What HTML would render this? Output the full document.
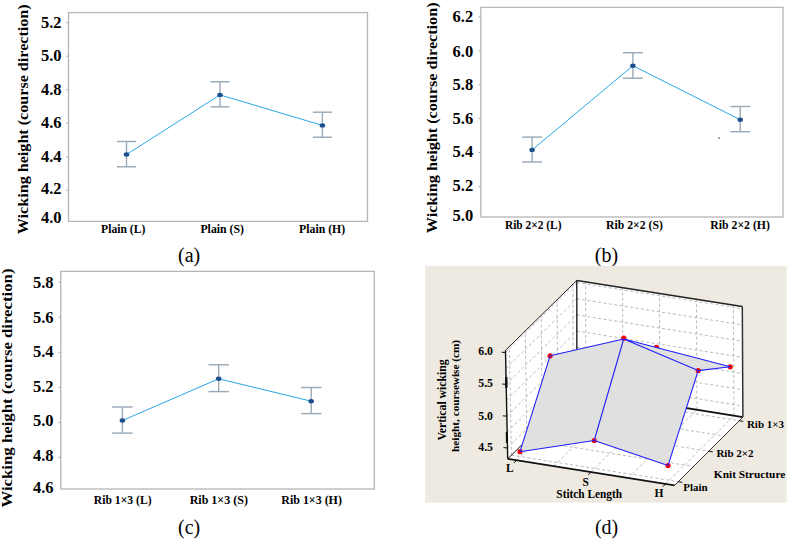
<!DOCTYPE html><html><head><meta charset="utf-8"><style>html,body{margin:0;padding:0;background:#fff;overflow:hidden}</style></head><body><svg width="789" height="539" viewBox="0 0 789 539" style="display:block;font-family:'Liberation Serif', serif">
<rect width="789" height="539" fill="#fff"/>
<rect x="68.50" y="12.60" width="299.00" height="208.80" fill="#fff" stroke="#b6b6b6" stroke-width="1.3"/>
<line x1="66.30" y1="22.60" x2="68.50" y2="22.60" stroke="#a8a8a8" stroke-width="1"/>
<line x1="66.30" y1="56.15" x2="68.50" y2="56.15" stroke="#a8a8a8" stroke-width="1"/>
<line x1="66.30" y1="89.70" x2="68.50" y2="89.70" stroke="#a8a8a8" stroke-width="1"/>
<line x1="66.30" y1="123.25" x2="68.50" y2="123.25" stroke="#a8a8a8" stroke-width="1"/>
<line x1="66.30" y1="156.80" x2="68.50" y2="156.80" stroke="#a8a8a8" stroke-width="1"/>
<line x1="66.30" y1="190.35" x2="68.50" y2="190.35" stroke="#a8a8a8" stroke-width="1"/>
<text x="61.50" y="27.80" font-size="16.5" text-anchor="end" font-weight="bold" fill="#000" >5.2</text>
<text x="61.50" y="60.95" font-size="16.5" text-anchor="end" font-weight="bold" fill="#000" >5.0</text>
<text x="61.50" y="95.15" font-size="16.5" text-anchor="end" font-weight="bold" fill="#000" >4.8</text>
<text x="61.50" y="128.34" font-size="16.5" text-anchor="end" font-weight="bold" fill="#000" >4.6</text>
<text x="61.50" y="161.54" font-size="16.5" text-anchor="end" font-weight="bold" fill="#000" >4.4</text>
<text x="61.50" y="194.44" font-size="16.5" text-anchor="end" font-weight="bold" fill="#000" >4.2</text>
<text x="61.50" y="222.94" font-size="16.5" text-anchor="end" font-weight="bold" fill="#000" >4.0</text>
<text x="123.20" y="233.30" font-size="11.8" text-anchor="middle" font-weight="bold" fill="#000" textLength="44.2" lengthAdjust="spacingAndGlyphs">Plain (L)</text>
<text x="222.20" y="233.30" font-size="11.8" text-anchor="middle" font-weight="bold" fill="#000" textLength="43.6" lengthAdjust="spacingAndGlyphs">Plain (S)</text>
<text x="322.10" y="233.30" font-size="11.8" text-anchor="middle" font-weight="bold" fill="#000" textLength="46.0" lengthAdjust="spacingAndGlyphs">Plain (H)</text>
<g stroke="#9aaab8" stroke-width="1.45" fill="none"><line x1="126.50" y1="141.50" x2="126.50" y2="166.80" stroke-width="1.4"/><line x1="116.90" y1="141.50" x2="136.10" y2="141.50"/><line x1="116.90" y1="166.80" x2="136.10" y2="166.80"/></g>
<g stroke="#9aaab8" stroke-width="1.45" fill="none"><line x1="220.00" y1="81.80" x2="220.00" y2="106.80" stroke-width="1.4"/><line x1="210.40" y1="81.80" x2="229.60" y2="81.80"/><line x1="210.40" y1="106.80" x2="229.60" y2="106.80"/></g>
<g stroke="#9aaab8" stroke-width="1.45" fill="none"><line x1="322.40" y1="112.20" x2="322.40" y2="137.20" stroke-width="1.4"/><line x1="312.80" y1="112.20" x2="332.00" y2="112.20"/><line x1="312.80" y1="137.20" x2="332.00" y2="137.20"/></g>
<path d="M126.50,154.50 L220.00,94.90 L322.40,125.40" stroke="#2aa6e6" stroke-width="1.0" fill="none"/>
<ellipse cx="126.50" cy="154.50" rx="2.75" ry="2.2" fill="#1a4f8c"/>
<ellipse cx="220.00" cy="94.90" rx="2.75" ry="2.2" fill="#1a4f8c"/>
<ellipse cx="322.40" cy="125.40" rx="2.75" ry="2.2" fill="#1a4f8c"/>
<text transform="translate(27.80,234.20) rotate(-90)" font-size="15" font-weight="bold" textLength="229.90" lengthAdjust="spacingAndGlyphs">Wicking height (course direction)</text>
<text x="189.10" y="261.80" font-size="20" text-anchor="middle" font-weight="normal" fill="#000" >(a)</text>
<rect x="480.80" y="7.40" width="302.20" height="209.60" fill="#fff" stroke="#b6b6b6" stroke-width="1.3"/>
<line x1="478.60" y1="16.90" x2="480.80" y2="16.90" stroke="#a8a8a8" stroke-width="1"/>
<line x1="478.60" y1="50.80" x2="480.80" y2="50.80" stroke="#a8a8a8" stroke-width="1"/>
<line x1="478.60" y1="84.70" x2="480.80" y2="84.70" stroke="#a8a8a8" stroke-width="1"/>
<line x1="478.60" y1="118.60" x2="480.80" y2="118.60" stroke="#a8a8a8" stroke-width="1"/>
<line x1="478.60" y1="152.50" x2="480.80" y2="152.50" stroke="#a8a8a8" stroke-width="1"/>
<line x1="478.60" y1="186.40" x2="480.80" y2="186.40" stroke="#a8a8a8" stroke-width="1"/>
<text x="473.20" y="22.25" font-size="16.5" text-anchor="end" font-weight="bold" fill="#000" >6.2</text>
<text x="473.20" y="56.84" font-size="16.5" text-anchor="end" font-weight="bold" fill="#000" >6.0</text>
<text x="473.20" y="90.25" font-size="16.5" text-anchor="end" font-weight="bold" fill="#000" >5.8</text>
<text x="473.20" y="124.34" font-size="16.5" text-anchor="end" font-weight="bold" fill="#000" >5.6</text>
<text x="473.20" y="156.75" font-size="16.5" text-anchor="end" font-weight="bold" fill="#000" >5.4</text>
<text x="473.20" y="191.34" font-size="16.5" text-anchor="end" font-weight="bold" fill="#000" >5.2</text>
<text x="473.20" y="221.04" font-size="16.5" text-anchor="end" font-weight="bold" fill="#000" >5.0</text>
<text x="533.20" y="229.30" font-size="11.8" text-anchor="middle" font-weight="bold" fill="#000" textLength="56.6" lengthAdjust="spacingAndGlyphs">Rib 2×2 (L)</text>
<text x="634.50" y="229.30" font-size="11.8" text-anchor="middle" font-weight="bold" fill="#000" textLength="56.9" lengthAdjust="spacingAndGlyphs">Rib 2×2 (S)</text>
<text x="740.10" y="229.30" font-size="11.8" text-anchor="middle" font-weight="bold" fill="#000" textLength="59.6" lengthAdjust="spacingAndGlyphs">Rib 2×2 (H)</text>
<g stroke="#9aaab8" stroke-width="1.45" fill="none"><line x1="532.10" y1="137.10" x2="532.10" y2="162.00" stroke-width="1.4"/><line x1="522.20" y1="137.10" x2="542.00" y2="137.10"/><line x1="522.20" y1="162.00" x2="542.00" y2="162.00"/></g>
<g stroke="#9aaab8" stroke-width="1.45" fill="none"><line x1="632.90" y1="52.70" x2="632.90" y2="78.20" stroke-width="1.4"/><line x1="623.00" y1="52.70" x2="642.80" y2="52.70"/><line x1="623.00" y1="78.20" x2="642.80" y2="78.20"/></g>
<g stroke="#9aaab8" stroke-width="1.45" fill="none"><line x1="740.20" y1="106.50" x2="740.20" y2="131.70" stroke-width="1.4"/><line x1="730.30" y1="106.50" x2="750.10" y2="106.50"/><line x1="730.30" y1="131.70" x2="750.10" y2="131.70"/></g>
<path d="M532.10,149.90 L632.90,65.70 L740.20,119.70" stroke="#2aa6e6" stroke-width="1.0" fill="none"/>
<ellipse cx="532.10" cy="149.90" rx="2.75" ry="2.2" fill="#1a4f8c"/>
<ellipse cx="632.90" cy="65.70" rx="2.75" ry="2.2" fill="#1a4f8c"/>
<ellipse cx="740.20" cy="119.70" rx="2.75" ry="2.2" fill="#1a4f8c"/>
<text transform="translate(436.70,233.20) rotate(-90)" font-size="15" font-weight="bold" textLength="230.80" lengthAdjust="spacingAndGlyphs">Wicking height (course direction)</text>
<text x="606.50" y="262.00" font-size="20" text-anchor="middle" font-weight="normal" fill="#000" >(b)</text>
<circle cx="719" cy="138" r="0.8" fill="#333"/>
<rect x="60.80" y="271.40" width="313.50" height="217.60" fill="#fff" stroke="#b6b6b6" stroke-width="1.3"/>
<line x1="58.60" y1="282.20" x2="60.80" y2="282.20" stroke="#a8a8a8" stroke-width="1"/>
<line x1="58.60" y1="317.25" x2="60.80" y2="317.25" stroke="#a8a8a8" stroke-width="1"/>
<line x1="58.60" y1="352.30" x2="60.80" y2="352.30" stroke="#a8a8a8" stroke-width="1"/>
<line x1="58.60" y1="387.35" x2="60.80" y2="387.35" stroke="#a8a8a8" stroke-width="1"/>
<line x1="58.60" y1="422.40" x2="60.80" y2="422.40" stroke="#a8a8a8" stroke-width="1"/>
<line x1="58.60" y1="457.45" x2="60.80" y2="457.45" stroke="#a8a8a8" stroke-width="1"/>
<text x="53.60" y="288.14" font-size="16.5" text-anchor="end" font-weight="bold" fill="#000" >5.8</text>
<text x="53.60" y="323.05" font-size="16.5" text-anchor="end" font-weight="bold" fill="#000" >5.6</text>
<text x="53.60" y="357.05" font-size="16.5" text-anchor="end" font-weight="bold" fill="#000" >5.4</text>
<text x="53.60" y="391.84" font-size="16.5" text-anchor="end" font-weight="bold" fill="#000" >5.2</text>
<text x="53.60" y="425.84" font-size="16.5" text-anchor="end" font-weight="bold" fill="#000" >5.0</text>
<text x="53.60" y="460.75" font-size="16.5" text-anchor="end" font-weight="bold" fill="#000" >4.8</text>
<text x="53.60" y="493.44" font-size="16.5" text-anchor="end" font-weight="bold" fill="#000" >4.6</text>
<text x="122.70" y="504.20" font-size="11.8" text-anchor="middle" font-weight="bold" fill="#000" textLength="57.9" lengthAdjust="spacingAndGlyphs">Rib 1×3 (L)</text>
<text x="218.80" y="504.20" font-size="11.8" text-anchor="middle" font-weight="bold" fill="#000" textLength="58.3" lengthAdjust="spacingAndGlyphs">Rib 1×3 (S)</text>
<text x="311.60" y="504.20" font-size="11.8" text-anchor="middle" font-weight="bold" fill="#000" textLength="60.6" lengthAdjust="spacingAndGlyphs">Rib 1×3 (H)</text>
<g stroke="#9aaab8" stroke-width="1.45" fill="none"><line x1="122.40" y1="407.00" x2="122.40" y2="433.10" stroke-width="1.4"/><line x1="112.20" y1="407.00" x2="132.60" y2="407.00"/><line x1="112.20" y1="433.10" x2="132.60" y2="433.10"/></g>
<g stroke="#9aaab8" stroke-width="1.45" fill="none"><line x1="218.70" y1="364.80" x2="218.70" y2="391.60" stroke-width="1.4"/><line x1="208.50" y1="364.80" x2="228.90" y2="364.80"/><line x1="208.50" y1="391.60" x2="228.90" y2="391.60"/></g>
<g stroke="#9aaab8" stroke-width="1.45" fill="none"><line x1="311.20" y1="387.50" x2="311.20" y2="413.60" stroke-width="1.4"/><line x1="301.00" y1="387.50" x2="321.40" y2="387.50"/><line x1="301.00" y1="413.60" x2="321.40" y2="413.60"/></g>
<path d="M122.40,420.50 L218.70,378.80 L311.20,401.20" stroke="#2aa6e6" stroke-width="1.0" fill="none"/>
<ellipse cx="122.40" cy="420.50" rx="2.75" ry="2.2" fill="#1a4f8c"/>
<ellipse cx="218.70" cy="378.80" rx="2.75" ry="2.2" fill="#1a4f8c"/>
<ellipse cx="311.20" cy="401.20" rx="2.75" ry="2.2" fill="#1a4f8c"/>
<text transform="translate(12.00,507.50) rotate(-90)" font-size="15" font-weight="bold" textLength="239.00" lengthAdjust="spacingAndGlyphs">Wicking height (course direction)</text>
<text x="189.10" y="533.60" font-size="20" text-anchor="middle" font-weight="normal" fill="#000" >(c)</text>
<rect x="425.2" y="265.9" width="361.4" height="236.8" fill="#eeeae1"/>
<polygon points="507.70,458.80 505.50,350.30 576.80,280.40 742.30,306.40 742.90,417.10 674.60,485.40" fill="#fff"/>
<line x1="511.41" y1="455.14" x2="509.32" y2="346.55" stroke="#b2b2b2" stroke-width="0.9" stroke-dasharray="3,2.4"/>
<line x1="585.80" y1="391.93" x2="585.67" y2="281.79" stroke="#b2b2b2" stroke-width="0.9" stroke-dasharray="3,2.4"/>
<line x1="516.65" y1="460.23" x2="585.80" y2="391.93" stroke="#b2b2b2" stroke-width="0.9" stroke-dasharray="3,2.4"/>
<line x1="511.41" y1="455.14" x2="678.26" y2="481.74" stroke="#b2b2b2" stroke-width="0.9" stroke-dasharray="3,2.4"/>
<line x1="526.85" y1="439.89" x2="525.24" y2="330.95" stroke="#b2b2b2" stroke-width="0.9" stroke-dasharray="3,2.4"/>
<line x1="622.85" y1="397.86" x2="622.61" y2="287.60" stroke="#b2b2b2" stroke-width="0.9" stroke-dasharray="3,2.4"/>
<line x1="553.90" y1="466.16" x2="622.85" y2="397.86" stroke="#b2b2b2" stroke-width="0.9" stroke-dasharray="3,2.4"/>
<line x1="526.85" y1="439.89" x2="693.51" y2="466.49" stroke="#b2b2b2" stroke-width="0.9" stroke-dasharray="3,2.4"/>
<line x1="542.30" y1="424.65" x2="541.15" y2="315.35" stroke="#b2b2b2" stroke-width="0.9" stroke-dasharray="3,2.4"/>
<line x1="659.90" y1="403.80" x2="659.55" y2="293.40" stroke="#b2b2b2" stroke-width="0.9" stroke-dasharray="3,2.4"/>
<line x1="591.15" y1="472.10" x2="659.90" y2="403.80" stroke="#b2b2b2" stroke-width="0.9" stroke-dasharray="3,2.4"/>
<line x1="542.30" y1="424.65" x2="708.75" y2="451.25" stroke="#b2b2b2" stroke-width="0.9" stroke-dasharray="3,2.4"/>
<line x1="557.75" y1="409.41" x2="557.06" y2="299.75" stroke="#b2b2b2" stroke-width="0.9" stroke-dasharray="3,2.4"/>
<line x1="696.95" y1="409.74" x2="696.49" y2="299.20" stroke="#b2b2b2" stroke-width="0.9" stroke-dasharray="3,2.4"/>
<line x1="628.40" y1="478.04" x2="696.95" y2="409.74" stroke="#b2b2b2" stroke-width="0.9" stroke-dasharray="3,2.4"/>
<line x1="557.75" y1="409.41" x2="723.99" y2="436.01" stroke="#b2b2b2" stroke-width="0.9" stroke-dasharray="3,2.4"/>
<line x1="573.19" y1="394.16" x2="572.98" y2="284.15" stroke="#b2b2b2" stroke-width="0.9" stroke-dasharray="3,2.4"/>
<line x1="734.00" y1="415.67" x2="733.43" y2="305.01" stroke="#b2b2b2" stroke-width="0.9" stroke-dasharray="3,2.4"/>
<line x1="665.65" y1="483.97" x2="734.00" y2="415.67" stroke="#b2b2b2" stroke-width="0.9" stroke-dasharray="3,2.4"/>
<line x1="573.19" y1="394.16" x2="739.24" y2="420.76" stroke="#b2b2b2" stroke-width="0.9" stroke-dasharray="3,2.4"/>
<line x1="507.48" y1="447.92" x2="576.89" y2="379.46" stroke="#b2b2b2" stroke-width="0.9" stroke-dasharray="3,2.4"/>
<line x1="576.89" y1="379.46" x2="742.84" y2="406.00" stroke="#b2b2b2" stroke-width="0.9" stroke-dasharray="3,2.4"/>
<line x1="507.16" y1="432.02" x2="576.88" y2="363.33" stroke="#b2b2b2" stroke-width="0.9" stroke-dasharray="3,2.4"/>
<line x1="576.88" y1="363.33" x2="742.75" y2="389.78" stroke="#b2b2b2" stroke-width="0.9" stroke-dasharray="3,2.4"/>
<line x1="506.83" y1="416.13" x2="576.86" y2="347.20" stroke="#b2b2b2" stroke-width="0.9" stroke-dasharray="3,2.4"/>
<line x1="576.86" y1="347.20" x2="742.66" y2="373.56" stroke="#b2b2b2" stroke-width="0.9" stroke-dasharray="3,2.4"/>
<line x1="506.51" y1="400.23" x2="576.85" y2="331.06" stroke="#b2b2b2" stroke-width="0.9" stroke-dasharray="3,2.4"/>
<line x1="576.85" y1="331.06" x2="742.58" y2="357.34" stroke="#b2b2b2" stroke-width="0.9" stroke-dasharray="3,2.4"/>
<line x1="506.19" y1="384.33" x2="576.83" y2="314.93" stroke="#b2b2b2" stroke-width="0.9" stroke-dasharray="3,2.4"/>
<line x1="576.83" y1="314.93" x2="742.49" y2="341.12" stroke="#b2b2b2" stroke-width="0.9" stroke-dasharray="3,2.4"/>
<line x1="505.87" y1="368.43" x2="576.82" y2="298.79" stroke="#b2b2b2" stroke-width="0.9" stroke-dasharray="3,2.4"/>
<line x1="576.82" y1="298.79" x2="742.40" y2="324.89" stroke="#b2b2b2" stroke-width="0.9" stroke-dasharray="3,2.4"/>
<line x1="505.55" y1="352.53" x2="576.80" y2="282.66" stroke="#b2b2b2" stroke-width="0.9" stroke-dasharray="3,2.4"/>
<line x1="576.80" y1="282.66" x2="742.31" y2="308.67" stroke="#b2b2b2" stroke-width="0.9" stroke-dasharray="3,2.4"/>
<line x1="507.70" y1="458.80" x2="674.60" y2="485.40" stroke="#111" stroke-width="1.8" />
<line x1="576.90" y1="390.50" x2="742.90" y2="417.10" stroke="#111" stroke-width="1.8" />
<line x1="507.70" y1="458.80" x2="576.90" y2="390.50" stroke="#111" stroke-width="1.0" />
<line x1="674.60" y1="485.40" x2="742.90" y2="417.10" stroke="#333" stroke-width="1.0" />
<line x1="507.70" y1="458.80" x2="505.50" y2="350.30" stroke="#111" stroke-width="1.4" />
<line x1="505.50" y1="350.30" x2="576.80" y2="280.40" stroke="#222" stroke-width="1.0" />
<line x1="576.80" y1="280.40" x2="742.30" y2="306.40" stroke="#222" stroke-width="1.5" />
<line x1="742.90" y1="417.10" x2="742.30" y2="306.40" stroke="#333" stroke-width="1.5" />
<line x1="576.90" y1="390.50" x2="576.80" y2="280.40" stroke="#111" stroke-width="1.3" />
<line x1="506.30" y1="377.00" x2="506.40" y2="387.70" stroke="#111" stroke-width="2.4" />
<line x1="506.90" y1="432.00" x2="507.00" y2="443.00" stroke="#111" stroke-width="2.2" />
<line x1="516.65" y1="460.23" x2="513.85" y2="463.03" stroke="#111" stroke-width="1" />
<line x1="678.26" y1="481.74" x2="682.26" y2="482.34" stroke="#111" stroke-width="1" />
<line x1="591.15" y1="472.10" x2="588.35" y2="474.90" stroke="#111" stroke-width="1" />
<line x1="708.75" y1="451.25" x2="712.75" y2="451.85" stroke="#111" stroke-width="1" />
<line x1="665.65" y1="483.97" x2="662.85" y2="486.77" stroke="#111" stroke-width="1" />
<line x1="739.24" y1="420.76" x2="743.24" y2="421.36" stroke="#111" stroke-width="1" />
<line x1="507.48" y1="447.92" x2="503.48" y2="447.62" stroke="#111" stroke-width="1" />
<line x1="506.83" y1="416.13" x2="502.83" y2="415.83" stroke="#111" stroke-width="1" />
<line x1="506.19" y1="384.33" x2="502.19" y2="384.03" stroke="#111" stroke-width="1" />
<line x1="505.55" y1="352.53" x2="501.55" y2="352.23" stroke="#111" stroke-width="1" />
<polygon points="550.10,355.80 580.70,350.90 656.50,347.40 623.70,339.00" fill="#e0e0e0"/>
<circle cx="656.5" cy="347.4" r="2.6" fill="#ff0000"/>
<polygon points="623.70,339.00 730.20,366.80 698.20,370.60" fill="#e0e0e0"/>
<polygon points="520.00,451.70 594.20,440.50 623.70,339.00 550.10,355.80" fill="#e0e0e0"/>
<polygon points="594.20,440.50 668.00,465.60 698.20,370.60 623.70,339.00" fill="#e0e0e0"/>
<circle cx="520.0" cy="451.7" r="2.6" fill="#ff0000"/>
<circle cx="594.2" cy="440.5" r="2.6" fill="#ff0000"/>
<circle cx="668.0" cy="465.6" r="2.6" fill="#ff0000"/>
<circle cx="550.1" cy="355.8" r="2.6" fill="#ff0000"/>
<circle cx="623.8" cy="338.2" r="2.6" fill="#ff0000"/>
<circle cx="698.2" cy="370.6" r="2.6" fill="#ff0000"/>
<circle cx="730.2" cy="366.8" r="2.6" fill="#ff0000"/>
<path d="M520.00,451.70L550.10,355.80 M550.10,355.80L623.70,339.00 M623.70,339.00L594.20,440.50 M520.00,451.70L594.20,440.50 M594.20,440.50L668.00,465.60 M668.00,465.60L698.20,370.60 M698.20,370.60L623.70,339.00 M623.70,339.00L730.20,366.80 M730.20,366.80L698.20,370.60" stroke="#1f1fff" stroke-width="1.1" fill="none" stroke-linecap="round"/>
<text x="493.00" y="354.70" font-size="11.8" text-anchor="end" font-weight="bold" >6.0</text>
<text x="493.00" y="387.10" font-size="11.8" text-anchor="end" font-weight="bold" >5.5</text>
<text x="493.00" y="419.60" font-size="11.8" text-anchor="end" font-weight="bold" >5.0</text>
<text x="493.00" y="451.30" font-size="11.8" text-anchor="end" font-weight="bold" >4.5</text>
<text x="509.80" y="471.70" font-size="11.5" text-anchor="middle" font-weight="bold" >L</text>
<text x="585.70" y="485.50" font-size="11.5" text-anchor="middle" font-weight="bold" >S</text>
<text x="659.00" y="497.00" font-size="11.5" text-anchor="middle" font-weight="bold" >H</text>
<text x="589.20" y="497.50" font-size="11.9" text-anchor="middle" font-weight="bold" textLength="65.7" lengthAdjust="spacingAndGlyphs">Stitch Length</text>
<text x="683.30" y="490.50" font-size="11.0" text-anchor="start" font-weight="bold" textLength="24.4" lengthAdjust="spacingAndGlyphs">Plain</text>
<text x="716.40" y="457.30" font-size="11.0" text-anchor="start" font-weight="bold" textLength="37.1" lengthAdjust="spacingAndGlyphs">Rib 2×2</text>
<text x="746.90" y="427.50" font-size="11.0" text-anchor="start" font-weight="bold" textLength="37.1" lengthAdjust="spacingAndGlyphs">Rib 1×3</text>
<text x="713.80" y="478.30" font-size="11.4" text-anchor="start" font-weight="bold" textLength="71.5" lengthAdjust="spacingAndGlyphs">Knit Structure</text>
<text transform="translate(446.3,440.6) rotate(-90)" font-size="11.6" font-weight="bold" textLength="81.3" lengthAdjust="spacingAndGlyphs">Vertical wicking</text>
<text transform="translate(458.6,451.9) rotate(-90)" font-size="11.2" font-weight="bold" textLength="112" lengthAdjust="spacingAndGlyphs">height, coursewise (cm)</text>
<text x="606.60" y="533.60" font-size="20" text-anchor="middle" font-weight="normal" fill="#000" >(d)</text>
</svg></body></html>
